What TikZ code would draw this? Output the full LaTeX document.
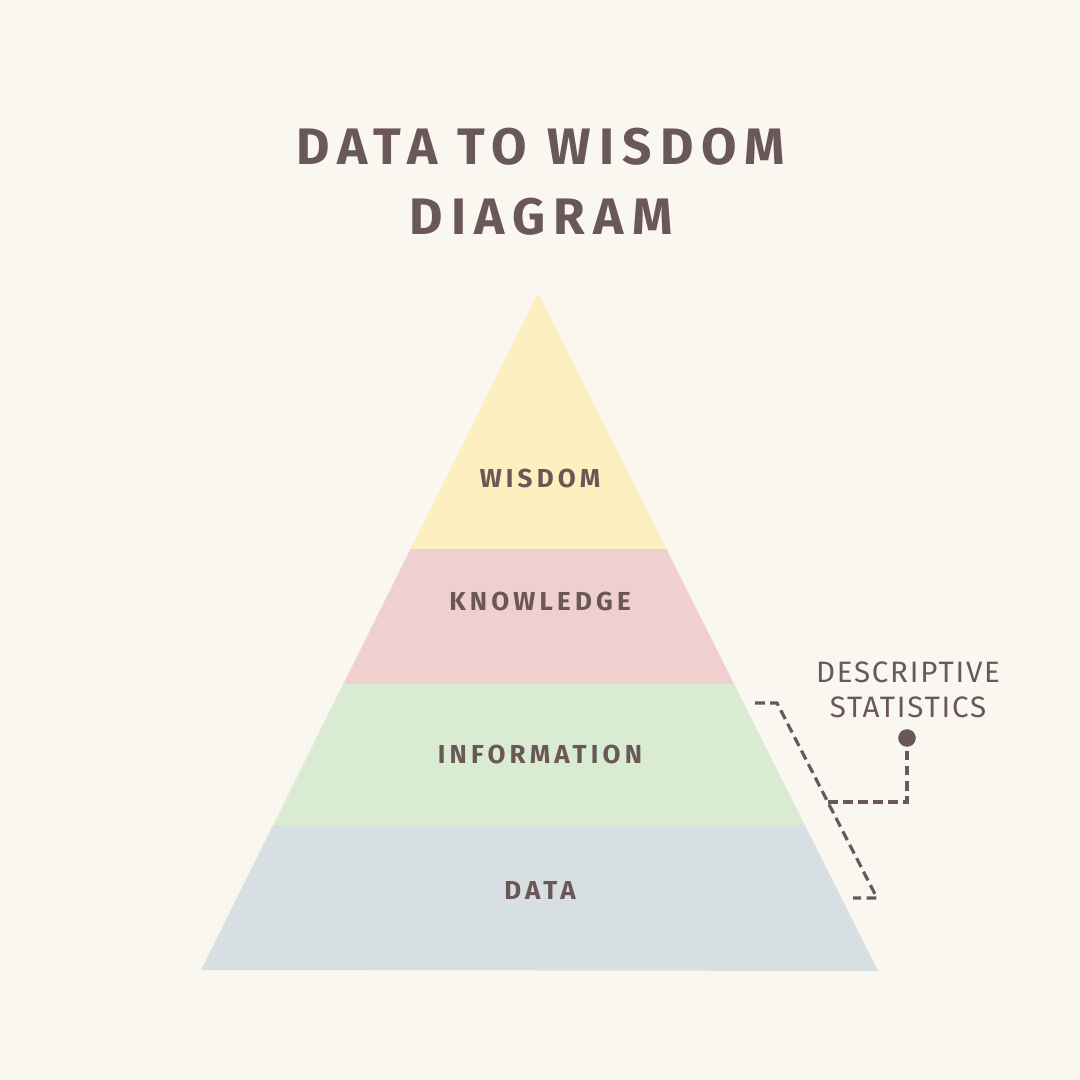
\documentclass[tikz,border=0pt]{standalone}
\usepackage{fontspec}
\usepackage{tikz}
\usetikzlibrary{calc, positioning}
\setmainfont{Fira Sans}
\newfontfamily\titlefont[LetterSpace=16]{Fira Sans}
\newfontfamily\labfont[LetterSpace=16]{Fira Sans}
\newfontfamily\descfont[LetterSpace=6]{Fira Sans}

\definecolor{bgcol}{HTML}{FAF7F0}
\definecolor{ink}{HTML}{6A5858}
\definecolor{cw}{HTML}{FDEFBE}
\definecolor{ck}{HTML}{F0CFCF}
\definecolor{ci}{HTML}{D9EBD1}
\definecolor{cd}{HTML}{D8DFE2}

\begin{document}
\begin{tikzpicture}[every node/.style={text=ink, inner sep=1pt},
  lab/.style={font=\labfont\bfseries\fontsize{7.4}{9}\selectfont},
  brk/.style={draw=ink, line width=0.9pt, dash pattern=on 2.8pt off 1.5pt}]

% tło
\fill[bgcol] (0,0) rectangle (10.8,10.8);

% tytuł
\node[font=\titlefont\bfseries\fontsize{14.6}{19}\selectfont, align=center] (title) at (5.41,8.98) {DATA TO WISDOM\\[1pt]DIAGRAM};

% piramida
\coordinate (top) at (5.38,7.87);
\coordinate (bl) at (2.01,1.10);
\coordinate (br) at (8.78,1.09);

% pasy (od dołu)
\begin{scope}
\clip (top) -- (bl) -- (br) -- cycle;
\foreach \ylo/\yhi/\col in {
  1.0/2.55/cd, 2.55/3.96/ci,
  3.96/5.31/ck, 5.31/8.0/cw} {
  \fill[\col] (1.9,\ylo) rectangle (8.9,\yhi);
}
\end{scope}

% etykiety pasów
\foreach \n/\y/\txt in {
  w/6.02/WISDOM, k/4.79/KNOWLEDGE,
  i/3.26/INFORMATION, d/1.90/DATA} {
  \node[lab] (l\n) at (5.40,\y) {\txt};
}

% nawias przerywany
\coordinate (b0) at (7.55,3.77);
\coordinate (b1) at (7.77,3.77);
\coordinate (b2) at (8.77,1.82);
\coordinate (b3) at (8.53,1.82);
\coordinate (bm) at ($(b1)!0.508!(b2)$);
\draw[brk] (b0) -- (b1) -- (b2) -- (b3);

% opis
\node[font=\descfont\fontsize{8.4}{10}\selectfont, align=center] (desc) at (9.08,3.90) {DESCRIPTIVE\\STATISTICS};
\node[circle, fill=ink, inner sep=0pt, minimum size=5pt] (dot) at (9.07,3.42) {};
\draw[brk] (bm) -| (dot);

\end{tikzpicture}
\end{document}
